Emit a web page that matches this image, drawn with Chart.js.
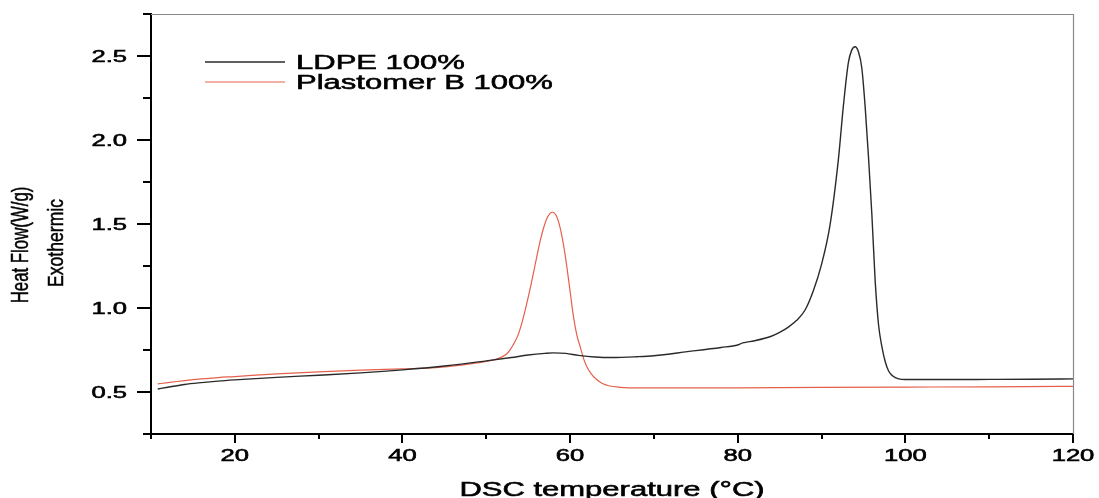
<!DOCTYPE html>
<html>
<head>
<meta charset="utf-8">
<title>DSC heat flow</title>
<script src="https://cdn.jsdelivr.net/npm/chart.js@4.4.1/dist/chart.umd.min.js"></script>
<style>
  html, body { margin: 0; padding: 0; background: #ffffff; }
  #wrap { width: 1099px; height: 498px; }
</style>
</head>
<body>
<div id="wrap"><canvas id="dsc" width="1099" height="498"></canvas></div>
<script>
// LDPE 100% heat flow trace (°C, W/g)
const temperatureLdpe = [10.8, 12, 14, 16, 18, 20, 25, 30, 35, 40, 45, 50, 53, 55, 57, 58, 59.5, 61, 63, 65,
  68, 70, 74, 78, 80, 80.6, 82, 84, 85, 86, 87, 88, 89, 90, 91, 92, 92.6, 93.2, 93.6, 94.0,
  94.4, 94.8, 95.2, 95.6, 96.0, 96.4, 96.8, 97.2, 97.6, 98.0, 98.5, 99.2, 100, 105, 110, 115, 120];
const heatFlowLdpe = [0.518, 0.528, 0.545, 0.556, 0.565, 0.572, 0.587, 0.600, 0.614, 0.632, 0.655, 0.685, 0.705, 0.720, 0.730, 0.733, 0.730, 0.718, 0.708, 0.705,
  0.710, 0.716, 0.740, 0.765, 0.780, 0.792, 0.805, 0.832, 0.855, 0.885, 0.925, 0.985, 1.10, 1.26, 1.49, 1.88, 2.20, 2.46, 2.535, 2.555,
  2.525, 2.43, 2.20, 1.90, 1.56, 1.16, 0.90, 0.77, 0.68, 0.625, 0.595, 0.578, 0.574, 0.574, 0.575, 0.576, 0.578];

// Plastomer B 100% heat flow trace (°C, W/g)
const temperaturePlastomer = [10.8, 12, 14, 16, 18, 20, 25, 30, 35, 40, 44, 47, 50, 51, 52, 52.6, 53.2, 53.8, 54.3, 54.8,
  55.3, 55.8, 56.3, 56.8, 57.3, 57.9, 58.4, 58.8, 59.2, 59.6, 60.0, 60.4, 60.8, 61.2, 61.6, 62.0, 62.5, 63.1, 63.8, 64.6,
  66, 68, 75, 80, 90, 100, 110, 120];
const heatFlowPlastomer = [0.548, 0.556, 0.568, 0.578, 0.586, 0.592, 0.608, 0.620, 0.630, 0.638, 0.645, 0.660, 0.682, 0.693, 0.712, 0.735, 0.78, 0.84, 0.92, 1.02,
  1.13, 1.25, 1.37, 1.47, 1.54, 1.57, 1.545, 1.48, 1.38, 1.25, 1.10, 0.95, 0.84, 0.77, 0.70, 0.65, 0.61, 0.577, 0.552, 0.537,
  0.528, 0.524, 0.524, 0.525, 0.527, 0.529, 0.531, 0.534];

// Series names and colours
const seriesNames = ['LDPE 100%', 'Plastomer B 100%'];
const seriesColors = ['#2a2a2a', '#e5604c'];

// Labelled (major) tick values
const xMajorTicks = [20, 40, 60, 80, 100, 120];
const xTickLabels = ['20', '40', '60', '80', '100', '120'];
const yMajorTicks = [0.5, 1.0, 1.5, 2.0, 2.5];
const yTickLabels = ['0.5', '1.0', '1.5', '2.0', '2.5'];

// Axis titles
const xTitle = 'DSC temperature (°C)';
const yTitle = 'Heat Flow(W/g)';
const yNote = 'Exothermic';

const FONT = '"Liberation Sans", Arial, Helvetica, sans-serif';

function toPoints(xs, ys) {
  return xs.map((x, i) => ({ x: x, y: ys[i] }));
}

// Text drawn with a horizontal stretch factor and a light outline for weight
function stretchedText(ctx, text, x, y, sx, align, size) {
  ctx.save();
  ctx.font = size + 'px ' + FONT;
  ctx.fillStyle = '#000';
  ctx.strokeStyle = '#000';
  ctx.lineWidth = 0.55;
  ctx.textBaseline = 'alphabetic';
  ctx.translate(x, y);
  ctx.scale(sx, 1);
  ctx.textAlign = align;
  ctx.fillText(text, 0, 0);
  ctx.strokeText(text, 0, 0);
  ctx.restore();
}

// Rotated, squeezed side label
function sideText(ctx, text, x, y, sx, size) {
  ctx.save();
  ctx.fillStyle = '#000';
  ctx.strokeStyle = '#000';
  ctx.lineWidth = 0.5;
  ctx.textAlign = 'center';
  ctx.textBaseline = 'alphabetic';
  ctx.font = size + 'px ' + FONT;
  ctx.translate(x, y);
  ctx.rotate(-Math.PI / 2);
  ctx.scale(sx, 1);
  ctx.fillText(text, 0, 0);
  ctx.strokeText(text, 0, 0);
  ctx.restore();
}

function isMajor(v, list) {
  return list.some(m => Math.abs(m - v) < 1e-6);
}

const framePlugin = {
  id: 'originFrame',
  afterDraw(chart) {
    const ctx = chart.ctx;
    const area = chart.chartArea;
    const xs = chart.scales.x;
    const ys = chart.scales.y;

    // thin top and right frame
    ctx.save();
    ctx.strokeStyle = '#8a8a8a';
    ctx.lineWidth = 1.2;
    ctx.beginPath();
    ctx.moveTo(area.left, area.top + 0.5);
    ctx.lineTo(area.right + 0.5, area.top + 0.5);
    ctx.lineTo(area.right + 0.5, area.bottom);
    ctx.stroke();

    // tick marks (outward)
    ctx.strokeStyle = '#000';
    ctx.lineWidth = 2;
    ctx.beginPath();
    xs.ticks.forEach(t => {
      const px = Math.round(xs.getPixelForValue(t.value));
      const len = isMajor(t.value, xMajorTicks) ? 9 : 5;
      ctx.moveTo(px, area.bottom);
      ctx.lineTo(px, area.bottom + len);
    });
    ys.ticks.forEach(t => {
      const py = Math.round(ys.getPixelForValue(t.value));
      const len = isMajor(t.value, yMajorTicks) ? 14 : 8;
      ctx.moveTo(area.left, py);
      ctx.lineTo(area.left - len, py);
    });
    ctx.stroke();
    ctx.restore();

    // tick labels
    xMajorTicks.forEach((v, i) => {
      const px = xs.getPixelForValue(v);
      stretchedText(ctx, xTickLabels[i], px, area.bottom + 27, 1.6, 'center', 16);
    });
    yMajorTicks.forEach((v, i) => {
      const py = ys.getPixelForValue(v);
      stretchedText(ctx, yTickLabels[i], area.left - 24, py + 6, 1.6, 'right', 16);
    });

    // axis titles
    stretchedText(ctx, xTitle, (area.left + area.right) / 2, 496, 1.55, 'center', 20);
    sideText(ctx, yTitle, 28, 245, 0.7, 24);
    sideText(ctx, yNote, 63, 243, 0.8, 22);

    // legend
    chart.data.datasets.forEach((ds, i) => {
      const ly = 62 + i * 20;
      ctx.save();
      ctx.strokeStyle = ds.borderColor;
      ctx.lineWidth = ds.borderWidth;
      ctx.beginPath();
      ctx.moveTo(205, ly);
      ctx.lineTo(285, ly);
      ctx.stroke();
      ctx.restore();
      stretchedText(ctx, ds.label, 296, ly + 7, 1.55, 'left', 20);
    });
  }
};

new Chart(document.getElementById('dsc'), {
  type: 'line',
  data: {
    datasets: [
      {
        label: seriesNames[0],
        data: toPoints(temperatureLdpe, heatFlowLdpe),
        borderColor: seriesColors[0],
        borderWidth: 1.4,
        pointRadius: 0,
        cubicInterpolationMode: 'monotone',
        fill: false
      },
      {
        label: seriesNames[1],
        data: toPoints(temperaturePlastomer, heatFlowPlastomer),
        borderColor: seriesColors[1],
        borderWidth: 1.2,
        pointRadius: 0,
        cubicInterpolationMode: 'monotone',
        fill: false
      }
    ]
  },
  options: {
    responsive: false,
    animation: false,
    devicePixelRatio: 1,
    layout: { padding: { left: 0, top: 14, right: 26, bottom: 0 } },
    plugins: { legend: { display: false }, tooltip: { enabled: false } },
    scales: {
      x: {
        type: 'linear',
        min: 10,
        max: 120,
        ticks: { display: false, stepSize: 10 },
        grid: { display: false },
        border: { display: true, color: '#000', width: 2 },
        afterFit(scale) { scale.height = 64; }
      },
      y: {
        type: 'linear',
        min: 0.25,
        max: 2.75,
        ticks: { display: false, stepSize: 0.25 },
        grid: { display: false },
        border: { display: true, color: '#000', width: 2 },
        afterFit(scale) { scale.width = 151; }
      }
    }
  },
  plugins: [framePlugin]
});
</script>
</body>
</html>
